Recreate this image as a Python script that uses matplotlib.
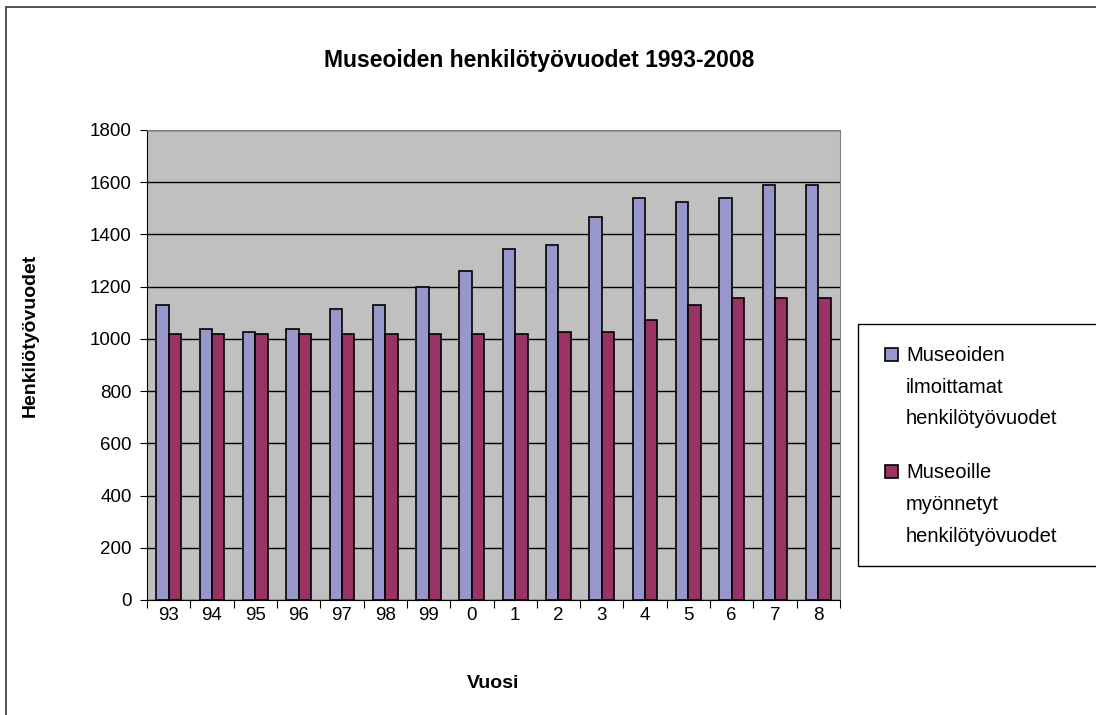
import numpy as np
import matplotlib
matplotlib.use('Agg')
import matplotlib.pyplot as plt
from matplotlib.patches import Rectangle

matplotlib.rcParams['font.family'] = ['Liberation Sans', 'DejaVu Sans']
matplotlib.rcParams['font.size'] = 12

years = ['93', '94', '95', '96', '97', '98', '99', '0', '1', '2', '3', '4', '5', '6', '7', '8']
ilmoitetut = [1130, 1036, 1028, 1036, 1115, 1130, 1200, 1259,
              1345, 1360, 1467, 1540, 1523, 1540, 1590, 1590]
myonnetyt = [1020, 1020, 1020, 1020, 1020, 1020, 1020, 1020,
             1020, 1028, 1028, 1072, 1129, 1157, 1157, 1157]

labels = ['Museoiden\nilmoittamat\nhenkilötyövuodet',
          'Museoille\nmyönnetyt\nhenkilötyövuodet']
colors = ['#9797CB', '#993366']

W, H = 1096, 715
fig = plt.figure(figsize=(W / 100, H / 100), dpi=100)
ax = fig.add_axes([147 / W, 1 - 600 / H, (840 - 147) / W, (600 - 130) / H])

x = np.arange(len(years))
w = 0.286
ax.bar(x - w/2, ilmoitetut, w, color=colors[0], edgecolor='black', linewidth=1.2,
       label=labels[0], zorder=3)
ax.bar(x + w/2, myonnetyt, w, color=colors[1], edgecolor='black', linewidth=1.2,
       label=labels[1], zorder=3)

ax.set_facecolor('#C0C0C0')
ax.set_xlim(-0.5, len(years) - 0.5)
ax.set_ylim(0, 1800)
ax.set_yticks(np.arange(0, 1801, 200))
ax.yaxis.grid(True, color='black', linewidth=1, zorder=0)
ax.set_axisbelow(True)

# ticks between categories, labels centred
ax.set_xticks(np.arange(-0.5, len(years)))
ax.set_xticklabels([])
ax.set_xticks(x, minor=True)
ax.set_xticklabels(years, minor=True)
ax.tick_params(axis='x', which='major', direction='out', length=6, color='black')
ax.tick_params(axis='x', which='minor', length=0, pad=5, labelsize=13.5)
ax.tick_params(axis='y', direction='out', length=5, labelsize=13.5, pad=6)

for s in ['left', 'bottom']:
    ax.spines[s].set_color('black')
for s in ['top', 'right']:
    ax.spines[s].set_color('#808080')

fig.text(539 / W, 1 - 60 / H, 'Museoiden henkilötyövuodet 1993-2008',
         fontsize=16.5, fontweight='bold', ha='center', va='center')
fig.text(493 / W, 1 - 683 / H, 'Vuosi', fontsize=14, fontweight='bold',
         ha='center', va='center')
fig.text(30 / W, 1 - 335 / H, 'Henkilötyövuodet', fontsize=14, fontweight='bold',
         ha='center', va='center', rotation=90)

# legend box, drawn by hand so the keys sit on the first text line
fig.patches.append(Rectangle((858 / W, 1 - 566 / H), 0.3, (566 - 324) / H,
                             transform=fig.transFigure, facecolor='white',
                             edgecolor='black', linewidth=1))
for i, (lab, col) in enumerate(zip(labels, colors)):
    top = 348 + i * 117
    fig.patches.append(Rectangle((885 / W, 1 - (top + 13) / H), 13 / W, 13 / H,
                                 transform=fig.transFigure, facecolor=col,
                                 edgecolor='black', linewidth=1.2))
    fig.text(906 / W, 1 - (top - 2) / H, lab, fontsize=14.5, ha='left', va='top',
             linespacing=1.85)

fig.patches.append(Rectangle((6 / W, -0.01), 1.01, 1 - 7 / H + 0.01,
                             transform=fig.transFigure, fill=False,
                             edgecolor='#333333', linewidth=1.2))

fig.savefig('out.png', dpi=100)
